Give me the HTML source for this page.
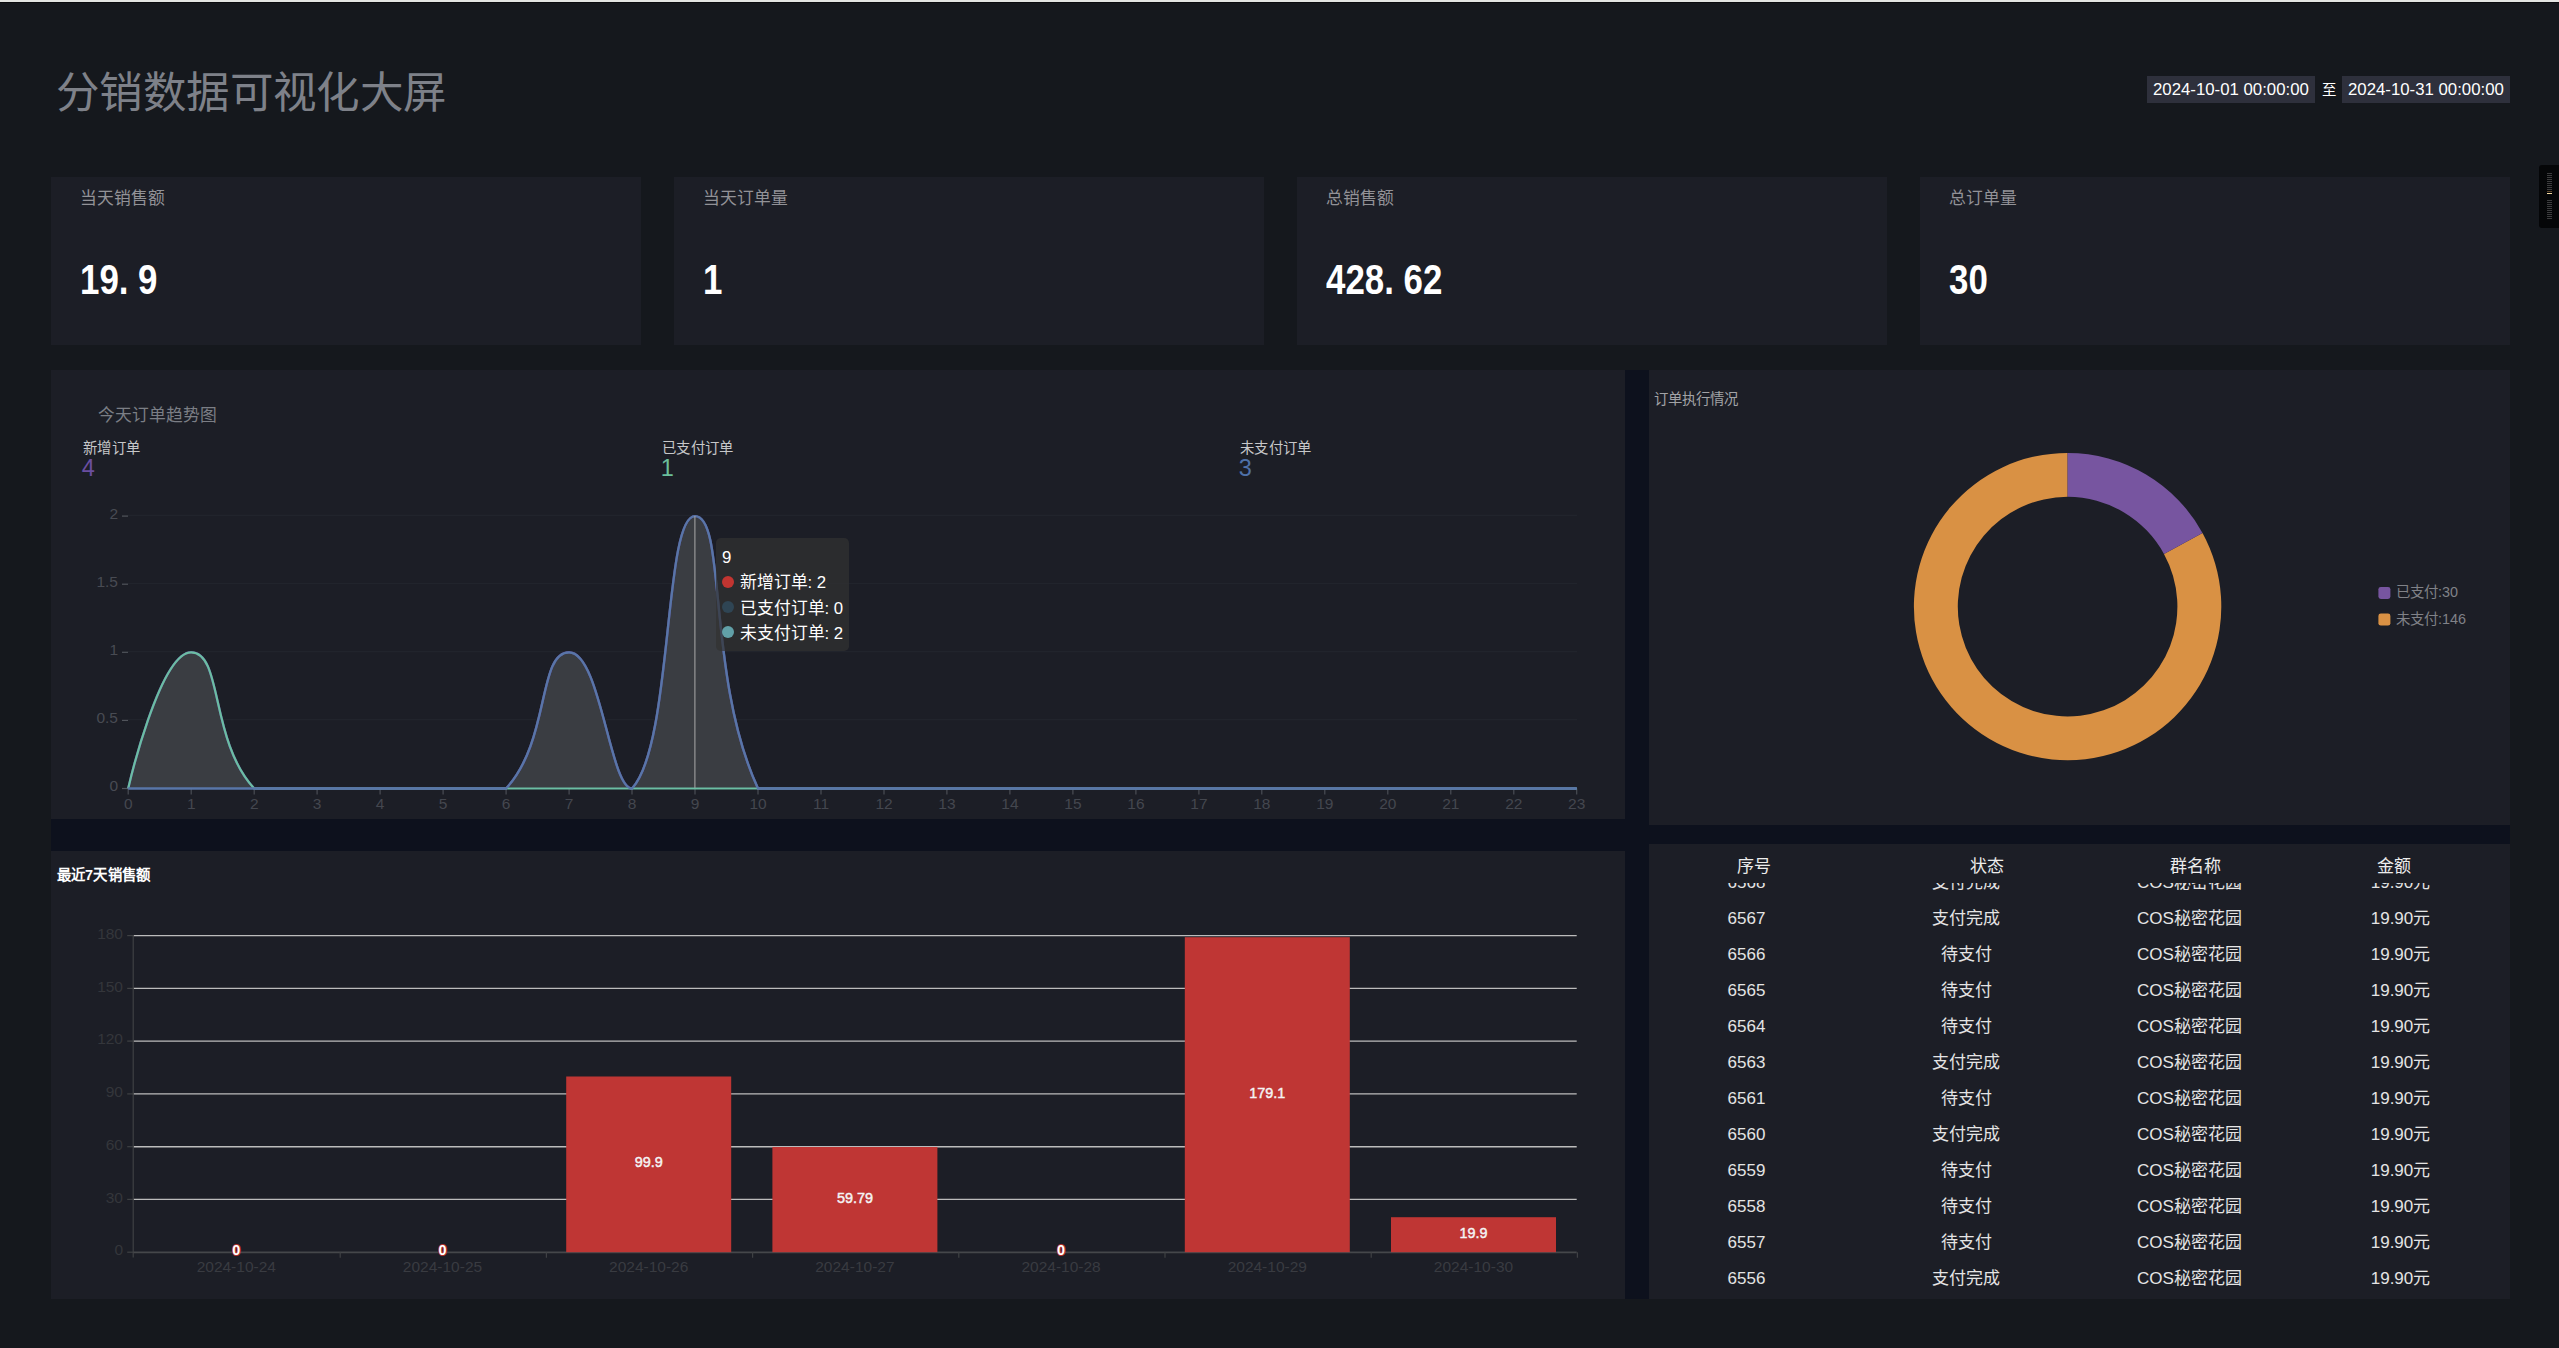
<!DOCTYPE html>
<html lang="zh-CN"><head><meta charset="utf-8"><title>分销数据可视化大屏</title>
<style>
html,body{margin:0;padding:0;}
body{width:2559px;height:1348px;overflow:hidden;background:#15181d;position:relative;font-family:"Liberation Sans",sans-serif;color:#fff;}
.abs{position:absolute;}
.t{position:absolute;white-space:nowrap;line-height:1;}
.panel{position:absolute;background:#1c1e26;}
.card{position:absolute;top:177px;width:590px;height:168px;background:#1c1e26;}
.card .lab{position:absolute;left:29px;top:12px;font-size:16.8px;line-height:20px;color:#929297;white-space:nowrap;}
.card .val{position:absolute;left:29.3px;top:77.5px;font-size:42.5px;line-height:50px;font-weight:bold;color:#fff;white-space:nowrap;transform:scaleX(0.82);transform-origin:0 0;}
.card .val i{font-style:normal;display:inline-block;width:23.6px;text-align:left;}
.dt{position:absolute;top:76px;height:27px;width:168px;background:#2e303c;color:#fff;font-size:16.8px;line-height:27px;text-indent:6px;white-space:nowrap;}
.th{position:absolute;top:857px;font-size:17px;line-height:20px;color:#ececec;white-space:nowrap;transform:translateX(-50%);}
.row{position:absolute;left:0;width:861px;height:36px;font-size:17px;line-height:36px;color:#e4e4e4;}
.row span{position:absolute;top:0;white-space:nowrap;transform:translateX(-50%);}
.c1{left:97.5px}.c2{left:317px}.c3{left:540.5px}.c4{left:751.5px}
svg text{font-family:"Liberation Sans",sans-serif;}
</style></head><body>

<div class="abs" style="left:0;top:0;width:2559px;height:2px;background:#e3e5e2"></div>
<div class="abs" style="left:0;top:2px;width:2559px;height:1px;background:#0a0b0e"></div>
<div class="t" style="left:56px;top:69px;font-size:43.5px;letter-spacing:0.4px;line-height:48px;font-weight:300;color:#7e8189;">分销数据可视化大屏</div>
<div class="dt" style="left:2147px">2024-10-01 00:00:00</div>
<div class="t" style="left:2321.5px;top:82.2px;font-size:14.4px;line-height:17px;color:#fff;">至</div>
<div class="dt" style="left:2342px">2024-10-31 00:00:00</div>
<div class="abs" style="left:2539px;top:165px;width:20px;height:63px;background:#050608;border-radius:3px 0 0 3px;"></div>
<div class="abs" style="left:2547px;top:173.0px;width:5px;height:1px;background:#3c3c3e"></div><div class="abs" style="left:2547px;top:175.0px;width:5px;height:1px;background:#3c3c3e"></div><div class="abs" style="left:2547px;top:177.0px;width:5px;height:1px;background:#3c3c3e"></div><div class="abs" style="left:2547px;top:179.0px;width:5px;height:1px;background:#3c3c3e"></div><div class="abs" style="left:2547px;top:181.0px;width:5px;height:1px;background:#3c3c3e"></div><div class="abs" style="left:2547px;top:183.1px;width:5px;height:1px;background:#3c3c3e"></div><div class="abs" style="left:2547px;top:185.1px;width:5px;height:1px;background:#3c3c3e"></div><div class="abs" style="left:2547px;top:187.1px;width:5px;height:1px;background:#3c3c3e"></div><div class="abs" style="left:2547px;top:189.1px;width:5px;height:1px;background:#3c3c3e"></div><div class="abs" style="left:2547px;top:191px;width:5px;height:1px;background:#5e472c"></div><div class="abs" style="left:2547px;top:192.8px;width:5px;height:1.4px;background:#f3d9a0"></div><div class="abs" style="left:2547px;top:199.9px;width:5px;height:1px;background:#3c3c3e"></div><div class="abs" style="left:2547px;top:201.9px;width:5px;height:1px;background:#3c3c3e"></div><div class="abs" style="left:2547px;top:203.9px;width:5px;height:1px;background:#3c3c3e"></div><div class="abs" style="left:2547px;top:205.9px;width:5px;height:1px;background:#3c3c3e"></div><div class="abs" style="left:2547px;top:207.9px;width:5px;height:1px;background:#3c3c3e"></div><div class="abs" style="left:2547px;top:210.0px;width:5px;height:1px;background:#3c3c3e"></div><div class="abs" style="left:2547px;top:212.0px;width:5px;height:1px;background:#3c3c3e"></div><div class="abs" style="left:2547px;top:214.0px;width:5px;height:1px;background:#3c3c3e"></div><div class="abs" style="left:2547px;top:216.0px;width:5px;height:1px;background:#3c3c3e"></div><div class="abs" style="left:2547px;top:218.0px;width:5px;height:1px;background:#3c3c3e"></div>
<div class="card" style="left:51px"><div class="lab">当天销售额</div><div class="val">19<i>.</i>9</div></div>
<div class="card" style="left:674px"><div class="lab">当天订单量</div><div class="val">1</div></div>
<div class="card" style="left:1297px"><div class="lab">总销售额</div><div class="val">428<i>.</i>62</div></div>
<div class="card" style="left:1920px"><div class="lab">总订单量</div><div class="val">30</div></div>
<div class="abs" style="left:51px;top:370px;width:2459px;height:929px;background:#0d111d"></div>
<div class="panel" style="left:51px;top:370px;width:1574px;height:449px"></div>
<div class="panel" style="left:1649px;top:370px;width:861px;height:455px"></div>
<div class="panel" style="left:51px;top:851px;width:1574px;height:448px"></div>
<div class="panel" style="left:1649px;top:844px;width:861px;height:455px;overflow:hidden" id="tbl">
<div class="abs" style="left:0;top:38.5px;width:861px;height:416px;overflow:hidden">
<div class="row" style="top:-17.3px"><span class="c1">6568</span><span class="c2">支付完成</span><span class="c3">COS秘密花园</span><span class="c4">19.90元</span></div>
<div class="row" style="top:18.7px"><span class="c1">6567</span><span class="c2">支付完成</span><span class="c3">COS秘密花园</span><span class="c4">19.90元</span></div>
<div class="row" style="top:54.7px"><span class="c1">6566</span><span class="c2">待支付</span><span class="c3">COS秘密花园</span><span class="c4">19.90元</span></div>
<div class="row" style="top:90.7px"><span class="c1">6565</span><span class="c2">待支付</span><span class="c3">COS秘密花园</span><span class="c4">19.90元</span></div>
<div class="row" style="top:126.7px"><span class="c1">6564</span><span class="c2">待支付</span><span class="c3">COS秘密花园</span><span class="c4">19.90元</span></div>
<div class="row" style="top:162.7px"><span class="c1">6563</span><span class="c2">支付完成</span><span class="c3">COS秘密花园</span><span class="c4">19.90元</span></div>
<div class="row" style="top:198.7px"><span class="c1">6561</span><span class="c2">待支付</span><span class="c3">COS秘密花园</span><span class="c4">19.90元</span></div>
<div class="row" style="top:234.7px"><span class="c1">6560</span><span class="c2">支付完成</span><span class="c3">COS秘密花园</span><span class="c4">19.90元</span></div>
<div class="row" style="top:270.7px"><span class="c1">6559</span><span class="c2">待支付</span><span class="c3">COS秘密花园</span><span class="c4">19.90元</span></div>
<div class="row" style="top:306.7px"><span class="c1">6558</span><span class="c2">待支付</span><span class="c3">COS秘密花园</span><span class="c4">19.90元</span></div>
<div class="row" style="top:342.7px"><span class="c1">6557</span><span class="c2">待支付</span><span class="c3">COS秘密花园</span><span class="c4">19.90元</span></div>
<div class="row" style="top:378.7px"><span class="c1">6556</span><span class="c2">支付完成</span><span class="c3">COS秘密花园</span><span class="c4">19.90元</span></div>
</div></div>
<div class="th" style="left:1753.5px">序号</div>
<div class="th" style="left:1986.5px">状态</div>
<div class="th" style="left:2195.5px">群名称</div>
<div class="th" style="left:2393.5px">金额</div>
<div class="t" style="left:98px;top:405.5px;font-size:16.8px;line-height:20px;color:#7b7e85;">今天订单趋势图</div>
<div class="t" style="left:82.8px;top:438.8px;font-size:14.4px;letter-spacing:0.4px;line-height:18px;color:#c6c7c9;">新增订单</div>
<div class="t" style="left:81.8px;top:455.2px;font-size:23.5px;line-height:26px;color:#6a4ea0;">4</div>
<div class="t" style="left:661.8px;top:438.8px;font-size:14.4px;letter-spacing:0.4px;line-height:18px;color:#c6c7c9;">已支付订单</div>
<div class="t" style="left:660.8px;top:455.2px;font-size:23.5px;line-height:26px;color:#6bc09c;">1</div>
<div class="t" style="left:1239.8px;top:438.8px;font-size:14.4px;letter-spacing:0.4px;line-height:18px;color:#c6c7c9;">未支付订单</div>
<div class="t" style="left:1238.8px;top:455.2px;font-size:23.5px;line-height:26px;color:#4f71a9;">3</div>
<svg class="abs" style="left:0;top:0" width="2559" height="1348" viewBox="0 0 2559 1348">
<line x1="128" y1="719.7" x2="1577" y2="719.7" stroke="#21242c" stroke-width="1.2"/>
<line x1="128" y1="651.6" x2="1577" y2="651.6" stroke="#21242c" stroke-width="1.2"/>
<line x1="128" y1="583.5" x2="1577" y2="583.5" stroke="#21242c" stroke-width="1.2"/>
<line x1="128" y1="515.4" x2="1577" y2="515.4" stroke="#21242c" stroke-width="1.2"/>
<line x1="122" y1="788.5" x2="128" y2="788.5" stroke="#51545b" stroke-width="1.2"/>
<text x="118" y="791.1" font-size="15.5" fill="#484b53" text-anchor="end">0</text>
<line x1="122" y1="720.4" x2="128" y2="720.4" stroke="#51545b" stroke-width="1.2"/>
<text x="118" y="723.0" font-size="15.5" fill="#484b53" text-anchor="end">0.5</text>
<line x1="122" y1="652.3" x2="128" y2="652.3" stroke="#51545b" stroke-width="1.2"/>
<text x="118" y="654.9" font-size="15.5" fill="#484b53" text-anchor="end">1</text>
<line x1="122" y1="584.2" x2="128" y2="584.2" stroke="#51545b" stroke-width="1.2"/>
<text x="118" y="586.8" font-size="15.5" fill="#484b53" text-anchor="end">1.5</text>
<line x1="122" y1="516.1" x2="128" y2="516.1" stroke="#51545b" stroke-width="1.2"/>
<text x="118" y="518.7" font-size="15.5" fill="#484b53" text-anchor="end">2</text>
<line x1="128.2" y1="788.5" x2="128.2" y2="794.5" stroke="#4a4d55" stroke-width="1.2"/>
<text x="128.2" y="809.3" font-size="15.5" fill="#44474f" text-anchor="middle">0</text>
<line x1="191.2" y1="788.5" x2="191.2" y2="794.5" stroke="#4a4d55" stroke-width="1.2"/>
<text x="191.2" y="809.3" font-size="15.5" fill="#44474f" text-anchor="middle">1</text>
<line x1="254.2" y1="788.5" x2="254.2" y2="794.5" stroke="#4a4d55" stroke-width="1.2"/>
<text x="254.2" y="809.3" font-size="15.5" fill="#44474f" text-anchor="middle">2</text>
<line x1="317.1" y1="788.5" x2="317.1" y2="794.5" stroke="#4a4d55" stroke-width="1.2"/>
<text x="317.1" y="809.3" font-size="15.5" fill="#44474f" text-anchor="middle">3</text>
<line x1="380.1" y1="788.5" x2="380.1" y2="794.5" stroke="#4a4d55" stroke-width="1.2"/>
<text x="380.1" y="809.3" font-size="15.5" fill="#44474f" text-anchor="middle">4</text>
<line x1="443.1" y1="788.5" x2="443.1" y2="794.5" stroke="#4a4d55" stroke-width="1.2"/>
<text x="443.1" y="809.3" font-size="15.5" fill="#44474f" text-anchor="middle">5</text>
<line x1="506.1" y1="788.5" x2="506.1" y2="794.5" stroke="#4a4d55" stroke-width="1.2"/>
<text x="506.1" y="809.3" font-size="15.5" fill="#44474f" text-anchor="middle">6</text>
<line x1="569.1" y1="788.5" x2="569.1" y2="794.5" stroke="#4a4d55" stroke-width="1.2"/>
<text x="569.1" y="809.3" font-size="15.5" fill="#44474f" text-anchor="middle">7</text>
<line x1="632.0" y1="788.5" x2="632.0" y2="794.5" stroke="#4a4d55" stroke-width="1.2"/>
<text x="632.0" y="809.3" font-size="15.5" fill="#44474f" text-anchor="middle">8</text>
<line x1="695.0" y1="788.5" x2="695.0" y2="794.5" stroke="#4a4d55" stroke-width="1.2"/>
<text x="695.0" y="809.3" font-size="15.5" fill="#44474f" text-anchor="middle">9</text>
<line x1="758.0" y1="788.5" x2="758.0" y2="794.5" stroke="#4a4d55" stroke-width="1.2"/>
<text x="758.0" y="809.3" font-size="15.5" fill="#44474f" text-anchor="middle">10</text>
<line x1="821.0" y1="788.5" x2="821.0" y2="794.5" stroke="#4a4d55" stroke-width="1.2"/>
<text x="821.0" y="809.3" font-size="15.5" fill="#44474f" text-anchor="middle">11</text>
<line x1="884.0" y1="788.5" x2="884.0" y2="794.5" stroke="#4a4d55" stroke-width="1.2"/>
<text x="884.0" y="809.3" font-size="15.5" fill="#44474f" text-anchor="middle">12</text>
<line x1="946.9" y1="788.5" x2="946.9" y2="794.5" stroke="#4a4d55" stroke-width="1.2"/>
<text x="946.9" y="809.3" font-size="15.5" fill="#44474f" text-anchor="middle">13</text>
<line x1="1009.9" y1="788.5" x2="1009.9" y2="794.5" stroke="#4a4d55" stroke-width="1.2"/>
<text x="1009.9" y="809.3" font-size="15.5" fill="#44474f" text-anchor="middle">14</text>
<line x1="1072.9" y1="788.5" x2="1072.9" y2="794.5" stroke="#4a4d55" stroke-width="1.2"/>
<text x="1072.9" y="809.3" font-size="15.5" fill="#44474f" text-anchor="middle">15</text>
<line x1="1135.9" y1="788.5" x2="1135.9" y2="794.5" stroke="#4a4d55" stroke-width="1.2"/>
<text x="1135.9" y="809.3" font-size="15.5" fill="#44474f" text-anchor="middle">16</text>
<line x1="1198.9" y1="788.5" x2="1198.9" y2="794.5" stroke="#4a4d55" stroke-width="1.2"/>
<text x="1198.9" y="809.3" font-size="15.5" fill="#44474f" text-anchor="middle">17</text>
<line x1="1261.8" y1="788.5" x2="1261.8" y2="794.5" stroke="#4a4d55" stroke-width="1.2"/>
<text x="1261.8" y="809.3" font-size="15.5" fill="#44474f" text-anchor="middle">18</text>
<line x1="1324.8" y1="788.5" x2="1324.8" y2="794.5" stroke="#4a4d55" stroke-width="1.2"/>
<text x="1324.8" y="809.3" font-size="15.5" fill="#44474f" text-anchor="middle">19</text>
<line x1="1387.8" y1="788.5" x2="1387.8" y2="794.5" stroke="#4a4d55" stroke-width="1.2"/>
<text x="1387.8" y="809.3" font-size="15.5" fill="#44474f" text-anchor="middle">20</text>
<line x1="1450.8" y1="788.5" x2="1450.8" y2="794.5" stroke="#4a4d55" stroke-width="1.2"/>
<text x="1450.8" y="809.3" font-size="15.5" fill="#44474f" text-anchor="middle">21</text>
<line x1="1513.8" y1="788.5" x2="1513.8" y2="794.5" stroke="#4a4d55" stroke-width="1.2"/>
<text x="1513.8" y="809.3" font-size="15.5" fill="#44474f" text-anchor="middle">22</text>
<line x1="1576.7" y1="788.5" x2="1576.7" y2="794.5" stroke="#4a4d55" stroke-width="1.2"/>
<text x="1576.7" y="809.3" font-size="15.5" fill="#44474f" text-anchor="middle">23</text>
<path d="M128.20,788.50 C128.20,788.50 159.69,652.30 191.18,652.30 C222.67,652.30 209.80,740.53 254.16,788.50 C272.78,788.50 285.65,788.50 317.14,788.50 C348.63,788.50 348.63,788.50 380.12,788.50 C411.61,788.50 411.61,788.50 443.10,788.50 C474.59,788.50 487.46,788.50 506.08,788.50 C550.44,740.53 537.57,652.30 569.06,652.30 C600.55,652.30 610.04,788.50 632.04,788.50 C673.02,744.18 663.53,516.10 695.02,516.10 C726.51,516.10 706.60,677.34 758.00,788.50 C769.58,788.50 789.49,788.50 820.98,788.50 C852.47,788.50 852.47,788.50 883.96,788.50 C915.45,788.50 915.45,788.50 946.94,788.50 C978.43,788.50 978.43,788.50 1009.92,788.50 C1041.41,788.50 1041.41,788.50 1072.90,788.50 C1104.39,788.50 1104.39,788.50 1135.88,788.50 C1167.37,788.50 1167.37,788.50 1198.86,788.50 C1230.35,788.50 1230.35,788.50 1261.84,788.50 C1293.33,788.50 1293.33,788.50 1324.82,788.50 C1356.31,788.50 1356.31,788.50 1387.80,788.50 C1419.29,788.50 1419.29,788.50 1450.78,788.50 C1482.27,788.50 1482.27,788.50 1513.76,788.50 C1545.25,788.50 1576.74,788.50 1576.74,788.50 L1576.74,788.50 L128.20,788.50 Z" fill="#3a3d42"/>
<path d="M128.20,788.50 C128.20,788.50 159.69,652.30 191.18,652.30 C222.67,652.30 209.80,740.53 254.16,788.50 C272.78,788.50 285.65,788.50 317.14,788.50 C348.63,788.50 348.63,788.50 380.12,788.50 C411.61,788.50 411.61,788.50 443.10,788.50 C474.59,788.50 487.46,788.50 506.08,788.50 C550.44,740.53 537.57,652.30 569.06,652.30 C600.55,652.30 610.04,788.50 632.04,788.50 C673.02,744.18 663.53,516.10 695.02,516.10 C726.51,516.10 706.60,677.34 758.00,788.50 C769.58,788.50 789.49,788.50 820.98,788.50 C852.47,788.50 852.47,788.50 883.96,788.50 C915.45,788.50 915.45,788.50 946.94,788.50 C978.43,788.50 978.43,788.50 1009.92,788.50 C1041.41,788.50 1041.41,788.50 1072.90,788.50 C1104.39,788.50 1104.39,788.50 1135.88,788.50 C1167.37,788.50 1167.37,788.50 1198.86,788.50 C1230.35,788.50 1230.35,788.50 1261.84,788.50 C1293.33,788.50 1293.33,788.50 1324.82,788.50 C1356.31,788.50 1356.31,788.50 1387.80,788.50 C1419.29,788.50 1419.29,788.50 1450.78,788.50 C1482.27,788.50 1482.27,788.50 1513.76,788.50 C1545.25,788.50 1576.74,788.50 1576.74,788.50" fill="none" stroke="#5b4a93" stroke-width="2.4"/>
<path d="M128.20,788.50 C128.20,788.50 159.69,652.30 191.18,652.30 C222.67,652.30 209.80,740.53 254.16,788.50 C272.78,788.50 285.65,788.50 317.14,788.50 C348.63,788.50 348.63,788.50 380.12,788.50 C411.61,788.50 411.61,788.50 443.10,788.50 C474.59,788.50 474.59,788.50 506.08,788.50 C537.57,788.50 537.57,788.50 569.06,788.50 C600.55,788.50 600.55,788.50 632.04,788.50 C663.53,788.50 663.53,788.50 695.02,788.50 C726.51,788.50 726.51,788.50 758.00,788.50 C789.49,788.50 789.49,788.50 820.98,788.50 C852.47,788.50 852.47,788.50 883.96,788.50 C915.45,788.50 915.45,788.50 946.94,788.50 C978.43,788.50 978.43,788.50 1009.92,788.50 C1041.41,788.50 1041.41,788.50 1072.90,788.50 C1104.39,788.50 1104.39,788.50 1135.88,788.50 C1167.37,788.50 1167.37,788.50 1198.86,788.50 C1230.35,788.50 1230.35,788.50 1261.84,788.50 C1293.33,788.50 1293.33,788.50 1324.82,788.50 C1356.31,788.50 1356.31,788.50 1387.80,788.50 C1419.29,788.50 1419.29,788.50 1450.78,788.50 C1482.27,788.50 1482.27,788.50 1513.76,788.50 C1545.25,788.50 1576.74,788.50 1576.74,788.50" fill="none" stroke="#6bbea3" stroke-width="2.2" stroke-linejoin="round"/>
<path d="M128.20,788.50 C128.20,788.50 159.69,788.50 191.18,788.50 C222.67,788.50 222.67,788.50 254.16,788.50 C285.65,788.50 285.65,788.50 317.14,788.50 C348.63,788.50 348.63,788.50 380.12,788.50 C411.61,788.50 411.61,788.50 443.10,788.50 C474.59,788.50 487.46,788.50 506.08,788.50 C550.44,740.53 537.57,652.30 569.06,652.30 C600.55,652.30 610.04,788.50 632.04,788.50 C673.02,744.18 663.53,516.10 695.02,516.10 C726.51,516.10 706.60,677.34 758.00,788.50 C769.58,788.50 789.49,788.50 820.98,788.50 C852.47,788.50 852.47,788.50 883.96,788.50 C915.45,788.50 915.45,788.50 946.94,788.50 C978.43,788.50 978.43,788.50 1009.92,788.50 C1041.41,788.50 1041.41,788.50 1072.90,788.50 C1104.39,788.50 1104.39,788.50 1135.88,788.50 C1167.37,788.50 1167.37,788.50 1198.86,788.50 C1230.35,788.50 1230.35,788.50 1261.84,788.50 C1293.33,788.50 1293.33,788.50 1324.82,788.50 C1356.31,788.50 1356.31,788.50 1387.80,788.50 C1419.29,788.50 1419.29,788.50 1450.78,788.50 C1482.27,788.50 1482.27,788.50 1513.76,788.50 C1545.25,788.50 1576.74,788.50 1576.74,788.50" fill="none" stroke="#5876a8" stroke-width="2.3" stroke-linejoin="round"/>
<line x1="694.9" y1="516" x2="694.9" y2="788" stroke="#a0a0a0" stroke-width="1.1"/>
<path d="M2202.50,532.94 A153.70,153.70 0 1 1 2067.60,452.90 L2067.60,496.80 A109.80,109.80 0 1 0 2163.97,553.98 Z" fill="#d99144"/>
<path d="M2067.60,452.90 A153.70,153.70 0 0 1 2202.50,532.94 L2163.97,553.98 A109.80,109.80 0 0 0 2067.60,496.80 Z" fill="#7755a0"/>
<rect x="2378.4" y="586.9" width="12" height="12" rx="2.4" fill="#7755a0"/>
<rect x="2378.4" y="613.6" width="12" height="12" rx="2.4" fill="#d99144"/>
<line x1="133.2" y1="1199.4" x2="1576.7" y2="1199.4" stroke="#bcbcbc" stroke-width="1.4"/>
<line x1="133.2" y1="1146.7" x2="1576.7" y2="1146.7" stroke="#bcbcbc" stroke-width="1.4"/>
<line x1="133.2" y1="1093.9" x2="1576.7" y2="1093.9" stroke="#bcbcbc" stroke-width="1.4"/>
<line x1="133.2" y1="1041.1" x2="1576.7" y2="1041.1" stroke="#bcbcbc" stroke-width="1.4"/>
<line x1="133.2" y1="988.4" x2="1576.7" y2="988.4" stroke="#bcbcbc" stroke-width="1.4"/>
<line x1="133.2" y1="935.6" x2="1576.7" y2="935.6" stroke="#bcbcbc" stroke-width="1.4"/>
<line x1="127.2" y1="1252.2" x2="133.2" y2="1252.2" stroke="#3f4144" stroke-width="1.2"/>
<text x="123" y="1255.4" font-size="15.5" fill="#34363b" text-anchor="end">0</text>
<line x1="127.2" y1="1199.4" x2="133.2" y2="1199.4" stroke="#3f4144" stroke-width="1.2"/>
<text x="123" y="1202.6" font-size="15.5" fill="#34363b" text-anchor="end">30</text>
<line x1="127.2" y1="1146.7" x2="133.2" y2="1146.7" stroke="#3f4144" stroke-width="1.2"/>
<text x="123" y="1149.9" font-size="15.5" fill="#34363b" text-anchor="end">60</text>
<line x1="127.2" y1="1093.9" x2="133.2" y2="1093.9" stroke="#3f4144" stroke-width="1.2"/>
<text x="123" y="1097.1" font-size="15.5" fill="#34363b" text-anchor="end">90</text>
<line x1="127.2" y1="1041.1" x2="133.2" y2="1041.1" stroke="#3f4144" stroke-width="1.2"/>
<text x="123" y="1044.3" font-size="15.5" fill="#34363b" text-anchor="end">120</text>
<line x1="127.2" y1="988.4" x2="133.2" y2="988.4" stroke="#3f4144" stroke-width="1.2"/>
<text x="123" y="991.6" font-size="15.5" fill="#34363b" text-anchor="end">150</text>
<line x1="127.2" y1="935.6" x2="133.2" y2="935.6" stroke="#3f4144" stroke-width="1.2"/>
<text x="123" y="938.8" font-size="15.5" fill="#34363b" text-anchor="end">180</text>
<line x1="133.2" y1="935" x2="133.2" y2="1257.5" stroke="#3f4144" stroke-width="1.2"/>
<line x1="133.2" y1="1252.4" x2="1576.7" y2="1252.4" stroke="#45474a" stroke-width="1.6"/>
<line x1="340.2" y1="1252.2" x2="340.2" y2="1257.8" stroke="#3f4144" stroke-width="1.2"/>
<line x1="546.4" y1="1252.2" x2="546.4" y2="1257.8" stroke="#3f4144" stroke-width="1.2"/>
<line x1="752.6" y1="1252.2" x2="752.6" y2="1257.8" stroke="#3f4144" stroke-width="1.2"/>
<line x1="958.8" y1="1252.2" x2="958.8" y2="1257.8" stroke="#3f4144" stroke-width="1.2"/>
<line x1="1165.0" y1="1252.2" x2="1165.0" y2="1257.8" stroke="#3f4144" stroke-width="1.2"/>
<line x1="1371.2" y1="1252.2" x2="1371.2" y2="1257.8" stroke="#3f4144" stroke-width="1.2"/>
<line x1="1577.4" y1="1252.2" x2="1577.4" y2="1257.8" stroke="#3f4144" stroke-width="1.2"/>
<text x="236.3" y="1255.4" font-size="14.4" font-weight="bold" fill="#fff" stroke="#b3302d" stroke-width="2" paint-order="stroke" stroke-linejoin="round" text-anchor="middle">0</text>
<text x="236.3" y="1271.6" font-size="15.5" fill="#393b41" text-anchor="middle">2024-10-24</text>
<text x="442.5" y="1255.4" font-size="14.4" font-weight="bold" fill="#fff" stroke="#b3302d" stroke-width="2" paint-order="stroke" stroke-linejoin="round" text-anchor="middle">0</text>
<text x="442.5" y="1271.6" font-size="15.5" fill="#393b41" text-anchor="middle">2024-10-25</text>
<rect x="566.2" y="1076.5" width="165.0" height="175.7" fill="#bf3634"/>
<text x="648.7" y="1167.3" font-size="14.4" fill="#f4f4f4" stroke="#f4f4f4" stroke-width="0.45" text-anchor="middle">99.9</text>
<text x="648.7" y="1271.6" font-size="15.5" fill="#393b41" text-anchor="middle">2024-10-26</text>
<rect x="772.4" y="1147.0" width="165.0" height="105.2" fill="#bf3634"/>
<text x="854.9" y="1202.6" font-size="14.4" fill="#f4f4f4" stroke="#f4f4f4" stroke-width="0.45" text-anchor="middle">59.79</text>
<text x="854.9" y="1271.6" font-size="15.5" fill="#393b41" text-anchor="middle">2024-10-27</text>
<text x="1061.1" y="1255.4" font-size="14.4" font-weight="bold" fill="#fff" stroke="#b3302d" stroke-width="2" paint-order="stroke" stroke-linejoin="round" text-anchor="middle">0</text>
<text x="1061.1" y="1271.6" font-size="15.5" fill="#393b41" text-anchor="middle">2024-10-28</text>
<rect x="1184.8" y="937.2" width="165.0" height="315.0" fill="#bf3634"/>
<text x="1267.3" y="1097.7" font-size="14.4" fill="#f4f4f4" stroke="#f4f4f4" stroke-width="0.45" text-anchor="middle">179.1</text>
<text x="1267.3" y="1271.6" font-size="15.5" fill="#393b41" text-anchor="middle">2024-10-29</text>
<rect x="1391.0" y="1217.2" width="165.0" height="35.0" fill="#bf3634"/>
<text x="1473.5" y="1237.7" font-size="14.4" fill="#f4f4f4" stroke="#f4f4f4" stroke-width="0.45" text-anchor="middle">19.9</text>
<text x="1473.5" y="1271.6" font-size="15.5" fill="#393b41" text-anchor="middle">2024-10-30</text>
</svg>
<div class="t" style="left:1654px;top:390px;font-size:14.4px;line-height:18px;color:#a2a3a6;">订单执行情况</div>
<div class="t" style="left:2396px;top:583px;font-size:14.4px;line-height:18px;color:#808288;">已支付:30</div>
<div class="t" style="left:2396px;top:609.6px;font-size:14.4px;line-height:18px;color:#808288;">未支付:146</div>
<div class="t" style="left:56.5px;top:866.5px;font-size:14.4px;letter-spacing:0.3px;line-height:16px;font-weight:bold;color:#fff;">最近7天销售额</div>
<div class="abs" style="left:716px;top:538px;width:133px;height:112.5px;background:rgba(50,50,50,0.7);border-radius:4.8px;"></div>
<div class="t" style="left:722px;top:544.6px;font-size:16.8px;line-height:25.2px;color:#fff;">9</div>
<div class="abs" style="left:722px;top:575.8px;width:12px;height:12px;border-radius:6px;background:#c23531"></div>
<div class="t" style="left:739.5px;top:570.3px;font-size:16.8px;line-height:25.2px;color:#fff;">新增订单: 2</div>
<div class="abs" style="left:722px;top:601.0px;width:12px;height:12px;border-radius:6px;background:#2f4554"></div>
<div class="t" style="left:739.5px;top:595.5px;font-size:16.8px;line-height:25.2px;color:#fff;">已支付订单: 0</div>
<div class="abs" style="left:722px;top:626.2px;width:12px;height:12px;border-radius:6px;background:#61a0a8"></div>
<div class="t" style="left:739.5px;top:620.7px;font-size:16.8px;line-height:25.2px;color:#fff;">未支付订单: 2</div>
</body></html>
